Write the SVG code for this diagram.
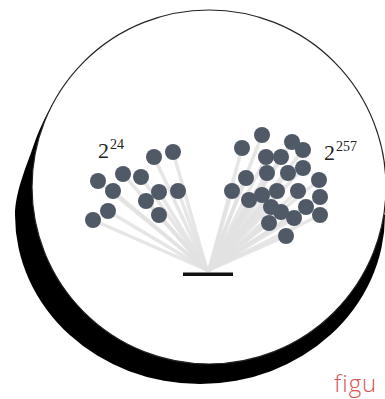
<svg xmlns="http://www.w3.org/2000/svg" width="385" height="399" viewBox="0 0 385 399">
<style>
.dot{fill:#4f5a66}
.ln{stroke:#e2e2e2;stroke-width:3.5;stroke-linecap:round;opacity:0.85}
.lbl{font-family:"Liberation Serif","Times New Roman",serif;fill:#222}
.fig{font-family:"Open Sans","Noto Sans",sans-serif;font-weight:300;fill:#d9534f}
</style>
<rect width="385" height="399" fill="#fff"/>
<g id="disc">
<path d="M52,105 C45,117 38,132 33,147 C27,165 15,192 15,215 A185,169 0 0 0 385,215 L300,150 L150,130 Z" fill="#000"/>
<circle cx="209" cy="187" r="177" fill="#fff" stroke="#222" stroke-width="1.2"/>
</g>
<g id="connectors">
<line class="ln" x1="93" y1="220" x2="207" y2="270"/>
<line class="ln" x1="108" y1="211" x2="207" y2="270"/>
<line class="ln" x1="98" y1="181" x2="207" y2="270"/>
<line class="ln" x1="113" y1="191" x2="207" y2="270"/>
<line class="ln" x1="123" y1="174" x2="207" y2="270"/>
<line class="ln" x1="141" y1="177" x2="207" y2="270"/>
<line class="ln" x1="154" y1="157" x2="207" y2="270"/>
<line class="ln" x1="173" y1="152" x2="207" y2="270"/>
<line class="ln" x1="146" y1="201" x2="207" y2="270"/>
<line class="ln" x1="159" y1="192" x2="207" y2="270"/>
<line class="ln" x1="178" y1="191" x2="207" y2="270"/>
<line class="ln" x1="159" y1="215" x2="207" y2="270"/>
<line class="ln" x1="262" y1="135" x2="209" y2="270"/>
<line class="ln" x1="242" y1="148" x2="209" y2="270"/>
<line class="ln" x1="292" y1="142" x2="209" y2="270"/>
<line class="ln" x1="303" y1="150" x2="209" y2="270"/>
<line class="ln" x1="266" y1="157" x2="209" y2="270"/>
<line class="ln" x1="281" y1="157" x2="209" y2="270"/>
<line class="ln" x1="246" y1="178" x2="209" y2="270"/>
<line class="ln" x1="267" y1="173" x2="209" y2="270"/>
<line class="ln" x1="288" y1="173" x2="209" y2="270"/>
<line class="ln" x1="303" y1="168" x2="209" y2="270"/>
<line class="ln" x1="319" y1="180" x2="209" y2="270"/>
<line class="ln" x1="232" y1="191" x2="209" y2="270"/>
<line class="ln" x1="249" y1="200" x2="209" y2="270"/>
<line class="ln" x1="262" y1="195" x2="209" y2="270"/>
<line class="ln" x1="277" y1="191" x2="209" y2="270"/>
<line class="ln" x1="298" y1="191" x2="209" y2="270"/>
<line class="ln" x1="320" y1="197" x2="209" y2="270"/>
<line class="ln" x1="271" y1="207" x2="209" y2="270"/>
<line class="ln" x1="281" y1="212" x2="209" y2="270"/>
<line class="ln" x1="294" y1="218" x2="209" y2="270"/>
<line class="ln" x1="306" y1="207" x2="209" y2="270"/>
<line class="ln" x1="320" y1="215" x2="209" y2="270"/>
<line class="ln" x1="269" y1="223" x2="209" y2="270"/>
<line class="ln" x1="286" y1="236" x2="209" y2="270"/>
</g>
<g id="bar"><rect x="183" y="272.5" width="50" height="3.5" fill="#111"/></g>
<g id="left-group">
<g id="L1"><circle class="dot" cx="93" cy="220" r="8"/></g>
<g id="L2"><circle class="dot" cx="108" cy="211" r="8"/></g>
<g id="L3"><circle class="dot" cx="98" cy="181" r="8"/></g>
<g id="L4"><circle class="dot" cx="113" cy="191" r="8"/></g>
<g id="L5"><circle class="dot" cx="123" cy="174" r="8"/></g>
<g id="L6"><circle class="dot" cx="141" cy="177" r="8"/></g>
<g id="L7"><circle class="dot" cx="154" cy="157" r="8"/></g>
<g id="L8"><circle class="dot" cx="173" cy="152" r="8"/></g>
<g id="L9"><circle class="dot" cx="146" cy="201" r="8"/></g>
<g id="L10"><circle class="dot" cx="159" cy="192" r="8"/></g>
<g id="L11"><circle class="dot" cx="178" cy="191" r="8"/></g>
<g id="L12"><circle class="dot" cx="159" cy="215" r="8"/></g>
</g>
<g id="right-group">
<g id="R1"><circle class="dot" cx="262" cy="135" r="8"/></g>
<g id="R2"><circle class="dot" cx="242" cy="148" r="8"/></g>
<g id="R3"><circle class="dot" cx="292" cy="142" r="8"/></g>
<g id="R4"><circle class="dot" cx="303" cy="150" r="8"/></g>
<g id="R5"><circle class="dot" cx="266" cy="157" r="8"/></g>
<g id="R6"><circle class="dot" cx="281" cy="157" r="8"/></g>
<g id="R7"><circle class="dot" cx="246" cy="178" r="8"/></g>
<g id="R8"><circle class="dot" cx="267" cy="173" r="8"/></g>
<g id="R9"><circle class="dot" cx="288" cy="173" r="8"/></g>
<g id="R10"><circle class="dot" cx="303" cy="168" r="8"/></g>
<g id="R11"><circle class="dot" cx="319" cy="180" r="8"/></g>
<g id="R12"><circle class="dot" cx="232" cy="191" r="8"/></g>
<g id="R13"><circle class="dot" cx="249" cy="200" r="8"/></g>
<g id="R14"><circle class="dot" cx="262" cy="195" r="8"/></g>
<g id="R15"><circle class="dot" cx="277" cy="191" r="8"/></g>
<g id="R16"><circle class="dot" cx="298" cy="191" r="8"/></g>
<g id="R17"><circle class="dot" cx="320" cy="197" r="8"/></g>
<g id="R18"><circle class="dot" cx="271" cy="207" r="8"/></g>
<g id="R19"><circle class="dot" cx="281" cy="212" r="8"/></g>
<g id="R20"><circle class="dot" cx="294" cy="218" r="8"/></g>
<g id="R21"><circle class="dot" cx="306" cy="207" r="8"/></g>
<g id="R22"><circle class="dot" cx="320" cy="215" r="8"/></g>
<g id="R23"><circle class="dot" cx="269" cy="223" r="8"/></g>
<g id="R24"><circle class="dot" cx="286" cy="236" r="8"/></g>
</g>
<g id="labels">
<text class="lbl" x="98" y="158" font-size="22">2</text>
<text class="lbl" x="110" y="149" font-size="14">24</text>
<text class="lbl" x="324" y="160" font-size="22">2</text>
<text class="lbl" x="336" y="151" font-size="14">257</text>
<text class="fig" x="334" y="392" font-size="24" letter-spacing="1">figu</text>
</g>
</svg>
